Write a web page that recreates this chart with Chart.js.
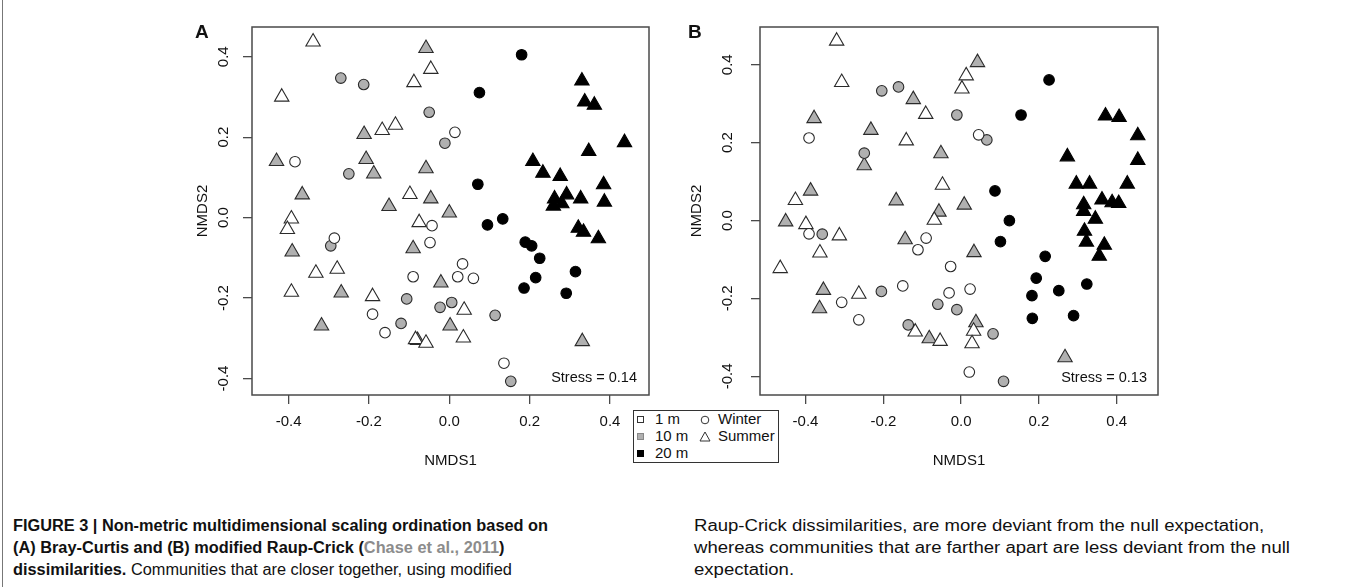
<!DOCTYPE html>
<html>
<head>
<meta charset="utf-8">
<script src="https://cdn.jsdelivr.net/npm/chart.js@4.4.1/dist/chart.umd.min.js"></script>
<style>
  body { margin: 0; background: #fff; }
  #page { position: relative; width: 1355px; height: 587px; overflow: hidden; font-family: "Liberation Sans", Arial, sans-serif; color: #111; }
  canvas { position: absolute; top: 0; }
  #frame { position: absolute; left: 2px; top: 0; width: 1px; height: 587px; background: #777; }
  .letter { position: absolute; font-weight: bold; font-size: 19px; line-height: 20px; }
  #legend { position: absolute; left: 633px; top: 410px; width: 144px; height: 51px; border: 1px solid #333; background: #fff; font-size: 15px; z-index: 2; }
  #legend .it { position: absolute; line-height: 17px; white-space: nowrap; }
  #legend svg { position: absolute; }
  .col { position: absolute; top: 515px; font-size: 16px; line-height: 22px; transform-origin: 0 0; white-space: nowrap; }
  .col span { display: inline-block; }
  .b { font-weight: bold; }
  .ref { color: #8c8c8c; }
</style>
</head>
<body>
<div id="page">
  <div id="frame"></div>
  <canvas id="chartA" width="520" height="480" style="left:150px"></canvas>
  <canvas id="chartB" width="520" height="480" style="left:660px"></canvas>
  <div class="letter" style="left:195px;top:22px">A</div>
  <div class="letter" style="left:688px;top:22px">B</div>

  <div id="legend">
    <svg style="left:3px;top:5px" width="8" height="8"><rect x="0.5" y="0.5" width="6" height="6" fill="#fff" stroke="#333"/></svg>
    <span class="it" style="left:21px;top:-1px">1 m</span>
    <svg style="left:3px;top:22px" width="8" height="8"><rect x="0.5" y="0.5" width="6" height="6" fill="#b0b0b0" stroke="#888"/></svg>
    <span class="it" style="left:21px;top:16px">10 m</span>
    <svg style="left:3px;top:39px" width="8" height="8"><rect x="0.5" y="0.5" width="6" height="6" fill="#000" stroke="#000"/></svg>
    <span class="it" style="left:21px;top:33px">20 m</span>
    <svg style="left:66px;top:4px" width="10" height="10"><circle cx="5" cy="5" r="3.8" fill="none" stroke="#333"/></svg>
    <span class="it" style="left:84px;top:-1px">Winter</span>
    <svg style="left:65px;top:20px" width="12" height="11"><polygon points="6,1 11,10 1,10" fill="none" stroke="#333"/></svg>
    <span class="it" style="left:84px;top:16px">Summer</span>
  </div>

  <div class="col" id="capL" style="left:13px">
    <div><span class="b">FIGURE 3 | Non-metric multidimensional scaling ordination based on</span></div>
    <div><span class="b">(A) Bray-Curtis and (B) modified Raup-Crick (<span class="ref">Chase et al., 2011</span>)</span></div>
    <div><span><span class="b">dissimilarities.</span> Communities that are closer together, using modified</span></div>
  </div>
  <div class="col" id="capR" style="left:694px">
    <div><span>Raup-Crick dissimilarities, are more deviant from the null expectation,</span></div>
    <div><span>whereas communities that are farther apart are less deviant from the null</span></div>
    <div><span>expectation.</span></div>
  </div>
</div>

<script>
// tick labels
const xTicks = [-0.4, -0.2, 0.0, 0.2, 0.4];
const yTicks = [-0.4, -0.2, 0.0, 0.2, 0.4];

// Panel A: Bray-Curtis
const a1mWinter = [[-0.384,0.139],[0.014,0.212],[-0.286,-0.051],[-0.043,-0.020],[-0.048,-0.062],[-0.090,-0.147],
  [-0.191,-0.240],[-0.160,-0.286],[0.033,-0.115],[0.021,-0.147],[0.060,-0.151],[0.136,-0.362]];
const a1mSummer = [[-0.339,0.437],[-0.046,0.369],[-0.088,0.336],[-0.417,0.300],[-0.167,0.217],[-0.134,0.230],
  [-0.098,0.058],[-0.393,-0.003],[-0.403,-0.029],[-0.332,-0.138],[-0.279,-0.128],[-0.393,-0.185],
  [-0.191,-0.196],[-0.075,-0.012],[0.037,-0.230],[0.035,-0.299],[-0.084,-0.303],[-0.058,-0.312]];
const a10mWinter = [[-0.270,0.347],[-0.213,0.331],[-0.050,0.262],[-0.011,0.185],[-0.250,0.109],[-0.295,-0.070],
  [-0.120,-0.263],[-0.106,-0.202],[-0.023,-0.223],[0.006,-0.211],[0.114,-0.243],[0.153,-0.407]];
const a10mSummer = [[-0.058,0.421],[-0.212,0.207],[-0.430,0.140],[-0.207,0.145],[-0.188,0.109],[-0.058,0.122],
  [-0.366,0.057],[-0.046,0.047],[-0.150,0.028],[0.000,0.012],[-0.391,-0.085],[-0.269,-0.187],
  [-0.318,-0.269],[-0.090,-0.077],[-0.021,-0.162],[0.002,-0.269],[-0.079,-0.305],[0.331,-0.308]];
const a20mWinter = [[0.180,0.405],[0.075,0.311],[0.071,0.083],[0.095,-0.018],[0.133,-0.003],[0.189,-0.061],
  [0.205,-0.070],[0.225,-0.101],[0.215,-0.149],[0.186,-0.175],[0.314,-0.134],[0.291,-0.188]];
const a20mSummer = [[0.330,0.340],[0.337,0.288],[0.361,0.280],[0.436,0.187],[0.347,0.165],[0.208,0.140],
  [0.233,0.111],[0.276,0.103],[0.384,0.082],[0.292,0.057],[0.327,0.047],[0.262,0.047],
  [0.280,0.035],[0.259,0.029],[0.386,0.039],[0.321,-0.026],[0.334,-0.036],[0.371,-0.052]];

// Panel B: modified Raup-Crick
const b1mWinter = [[-0.391,0.212],[0.045,0.220],[-0.391,-0.034],[-0.090,-0.045],[-0.111,-0.075],[-0.307,-0.210],
  [-0.263,-0.255],[-0.150,-0.168],[-0.027,-0.118],[-0.031,-0.186],[0.023,-0.176],[0.021,-0.389]];
const b1mSummer = [[-0.320,0.461],[-0.307,0.355],[0.013,0.372],[0.002,0.338],[-0.091,0.273],[-0.141,0.205],
  [-0.048,0.091],[-0.426,0.052],[-0.069,0.001],[-0.399,-0.010],[-0.313,-0.039],[-0.363,-0.083],
  [-0.465,-0.123],[-0.263,-0.189],[0.032,-0.284],[0.028,-0.316],[-0.118,-0.286],[-0.054,-0.310]];
const b10mWinter = [[-0.204,0.333],[-0.161,0.343],[-0.011,0.271],[0.066,0.207],[-0.249,0.173],[-0.357,-0.035],
  [-0.205,-0.182],[-0.060,-0.215],[-0.011,-0.229],[0.082,-0.291],[-0.136,-0.268],[0.109,-0.413]];
const b10mSummer = [[0.042,0.406],[-0.123,0.311],[-0.378,0.262],[-0.232,0.232],[-0.249,0.141],[-0.052,0.172],
  [-0.387,0.076],[-0.167,0.051],[0.008,0.040],[-0.057,0.022],[-0.451,-0.003],[-0.144,-0.049],
  [0.033,-0.082],[-0.354,-0.179],[-0.364,-0.226],[0.038,-0.262],[-0.082,-0.303],[0.267,-0.352]];
const b20mWinter = [[0.226,0.361],[0.154,0.271],[0.087,0.076],[0.124,0.000],[0.101,-0.054],[0.216,-0.092],
  [0.193,-0.148],[0.182,-0.193],[0.183,-0.251],[0.251,-0.180],[0.323,-0.163],[0.289,-0.244]];
const b20mSummer = [[0.371,0.269],[0.406,0.265],[0.454,0.218],[0.454,0.155],[0.273,0.164],[0.296,0.094],
  [0.330,0.094],[0.427,0.094],[0.362,0.053],[0.388,0.046],[0.405,0.044],[0.315,0.041],
  [0.315,0.024],[0.345,0.004],[0.317,-0.027],[0.322,-0.055],[0.368,-0.063],[0.355,-0.091]];

const FONT = { family: '"Liberation Sans", Arial, sans-serif', size: 15 };
const INK = '#111';
const AXIS = '#4a4a4a';

function pts(arr) { return arr.map(p => ({ x: p[0], y: p[1] })); }

function set(data, fill, shape, edge) {
  const tri = shape === 'triangle';
  return {
    data: pts(data),
    pointStyle: shape,
    pointRadius: tri ? 8.3 : 5.3,
    pointBackgroundColor: fill,
    pointBorderColor: edge,
    pointBorderWidth: 1.1
  };
}

// box around the plot region + stress note
const boxPlugin = {
  id: 'box',
  afterDatasetsDraw(chart, args, opts) {
    const { ctx, chartArea: a } = chart;
    ctx.save();
    ctx.strokeStyle = AXIS;
    ctx.lineWidth = 1.5;
    ctx.strokeRect(a.left, a.top, a.right - a.left, a.bottom - a.top);
    ctx.fillStyle = INK;
    ctx.font = '14.5px "Liberation Sans", Arial, sans-serif';
    ctx.textAlign = 'right';
    ctx.textBaseline = 'middle';
    ctx.fillText(opts.text, a.right - opts.dx, a.bottom - 17);
    ctx.restore();
  }
};

function makeChart(id, sets, lim, yWidth, padRight, yTickPad, yTitlePad, stress, dx) {
  return new Chart(document.getElementById(id), {
    type: 'scatter',
    data: { datasets: sets },
    plugins: [boxPlugin],
    options: {
      responsive: false,
      animation: false,
      events: [],
      layout: { padding: { left: 0, top: 27, right: padRight, bottom: 0 } },
      plugins: {
        legend: { display: false },
        tooltip: { enabled: false },
        box: { text: stress, dx: dx }
      },
      scales: {
        x: {
          type: 'linear', min: lim[0], max: lim[1],
          afterBuildTicks: s => { s.ticks = xTicks.map(v => ({ value: v })); },
          afterFit: s => { s.height = 85; },
          border: { display: false },
          grid: { drawOnChartArea: false, drawTicks: true, tickLength: 9, color: AXIS, lineWidth: 1.3 },
          ticks: { font: FONT, color: INK, padding: 9, callback: v => v.toFixed(1) },
          title: { display: true, text: 'NMDS1', font: FONT, color: INK, padding: { top: 0, bottom: 10 } }
        },
        y: {
          type: 'linear', min: lim[2], max: lim[3],
          afterBuildTicks: s => { s.ticks = yTicks.map(v => ({ value: v })); },
          afterFit: s => { s.width = yWidth; },
          border: { display: false },
          grid: { drawOnChartArea: false, drawTicks: true, tickLength: 9, color: AXIS, lineWidth: 1.3 },
          ticks: { font: FONT, color: INK, minRotation: 90, maxRotation: 90, crossAlign: 'center', padding: yTickPad,
                   callback: v => v.toFixed(1) },
          title: { display: true, text: 'NMDS2', font: FONT, color: INK, padding: { top: yTitlePad, bottom: 0 } }
        }
      }
    }
  });
}

const GREY = '#b0b0b0';
const EDGE = '#2a2a2a';

makeChart('chartA', [
  set(a1mWinter, '#fff', 'circle', EDGE),
  set(a1mSummer, '#fff', 'triangle', EDGE),
  set(a10mWinter, GREY, 'circle', EDGE),
  set(a10mSummer, GREY, 'triangle', EDGE),
  set(a20mWinter, '#000', 'circle', '#000'),
  set(a20mSummer, '#000', 'triangle', '#000')
], [-0.491, 0.497, -0.441, 0.474], 102, 21, 6, 44, 'Stress = 0.14', 12);

makeChart('chartB', [
  set(b1mWinter, '#fff', 'circle', EDGE),
  set(b1mSummer, '#fff', 'triangle', EDGE),
  set(b10mWinter, GREY, 'circle', EDGE),
  set(b10mSummer, GREY, 'triangle', EDGE),
  set(b20mWinter, '#000', 'circle', '#000'),
  set(b20mSummer, '#000', 'triangle', '#000')
], [-0.517, 0.506, -0.448, 0.497], 100, 22, 10, 28, 'Stress = 0.13', 11);

// squeeze caption columns to the condensed width of the original
function fit(id, idx, target) {
  const col = document.getElementById(id);
  const w = col.children[idx].firstElementChild.getBoundingClientRect().width;
  col.style.transform = 'scaleX(' + (target / w) + ')';
}
fit('capL', 0, 535);
fit('capR', 1, 596);
</script>
</body>
</html>
